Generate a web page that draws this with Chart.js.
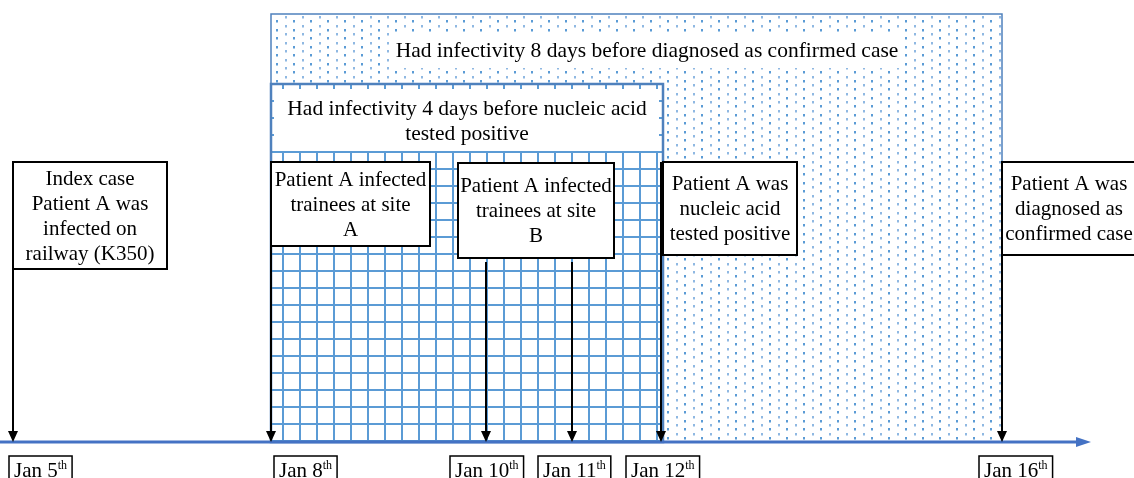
<!DOCTYPE html>
<html>
<head>
<meta charset="utf-8">
<script src="https://cdn.jsdelivr.net/npm/chart.js@4/dist/chart.umd.min.js"></script>
<style>
  html, body { margin: 0; padding: 0; background: #fff; }
  #wrap { width: 1134px; height: 478px; position: relative; }
</style>
</head>
<body>
<div id="wrap"><canvas id="timeline"></canvas></div>
<script>
// timeline data (positions in days as drawn on the diagram)
var dateLabels = ['Jan 5', 'Jan 8', 'Jan 10', 'Jan 11', 'Jan 12', 'Jan 16'];
var datePos = [5, 8, 10.5, 11.5, 12.53, 16.5];

var eventText = [
    ['Index case', 'Patient A was', 'infected on', 'railway (K350)'],
    ['Patient A infected', 'trainees at site', 'A'],
    ['Patient A infected', 'trainees at site', 'B'],
    ['Patient A was', 'nucleic acid', 'tested positive'],
    ['Patient A was', 'diagnosed as', 'confirmed case']
];
// which date(s) each event points at
var eventDates = [[0], [1], [2, 3], [4], [5]];

var periodText = [
    ['Had infectivity 8 days before diagnosed as confirmed case'],
    ['Had infectivity 4 days before nucleic acid', 'tested positive']
];
var periodFrom = [1, 1];
var periodTo = [5, 4];

var FONT = '"Liberation Serif", "Times New Roman", serif';
var BLUE = '#4f81bd';
var GRIDBLUE = '#5b9bd5';

function textLines(ctx, lines, cx, cy, lh) {
    var y0 = cy - (lines.length - 1) * lh / 2;
    lines.forEach(function (t, i) { ctx.fillText(t, cx, y0 + i * lh); });
}

/* all the drawing of the diagram happens here, using the x scale */
var timelinePlugin = {
    id: 'timeline',
    afterDraw: function (chart) {
        var ctx = chart.ctx;
        var xs = chart.scales.x;
        var px = function (i) { return Math.round(xs.getPixelForValue(datePos[i])); };
        var axisY = chart.chartArea.bottom;

        ctx.save();
        ctx.textAlign = 'center';
        ctx.textBaseline = 'middle';

        // 8 day period: dotted area
        var dL = px(periodFrom[0]), dR = px(periodTo[0]), dT = 14;
        ctx.fillStyle = '#fff';
        ctx.fillRect(dL, dT, dR - dL, axisY - dT);
        ctx.save();
        ctx.beginPath();
        ctx.rect(dL, dT, dR - dL, axisY - dT);
        ctx.clip();
        for (var i = 0; dL + 5 + i * 8.5 < dR; i++) {
            var off = (i % 2) ? 0 : 4.25;
            ctx.fillStyle = (i % 2) ? '#8fb8e2' : '#5b9bd5';
            for (var j = 0; dT + 2 + off + j * 8.5 < axisY; j++) {
                ctx.fillRect(Math.round(dL + 5 + i * 8.5), Math.round(dT + 2 + off + j * 8.5), 2, 2.5);
            }
        }
        ctx.restore();
        ctx.strokeStyle = BLUE;
        ctx.lineWidth = 1.5;
        ctx.strokeRect(dL, dT, dR - dL, axisY - dT);

        ctx.font = '21.5px ' + FONT;
        var tw = ctx.measureText(periodText[0][0]).width;
        var tcx = 647;
        ctx.fillStyle = '#fff';
        ctx.fillRect(tcx - tw / 2 - 5, 33, tw + 10, 35);
        ctx.fillStyle = '#000';
        textLines(ctx, periodText[0], tcx, 51, 25);

        // 4 day period: grid area
        var gL = px(periodFrom[1]), gR = px(periodTo[1]) + 2, gT = 84;
        ctx.fillStyle = '#fff';
        ctx.fillRect(gL, gT, gR - gL, axisY - gT);
        ctx.save();
        ctx.beginPath();
        ctx.rect(gL, gT, gR - gL, axisY - gT);
        ctx.clip();
        ctx.strokeStyle = GRIDBLUE;
        ctx.lineWidth = 2;
        ctx.beginPath();
        for (var gx = gL - 5; gx < gR; gx += 17) {
            ctx.moveTo(gx, gT); ctx.lineTo(gx, axisY);
        }
        for (var gy = gT; gy < axisY; gy += 17) {
            ctx.moveTo(gL, gy); ctx.lineTo(gR, gy);
        }
        ctx.stroke();
        ctx.restore();
        ctx.strokeStyle = BLUE;
        ctx.lineWidth = 2.5;
        ctx.strokeRect(gL, gT, gR - gL, axisY - gT);
        ctx.fillStyle = '#fff';
        ctx.fillRect(gL + 3, 89, gR - gL - 7, 62);
        ctx.fillStyle = '#000';
        ctx.font = '21.5px ' + FONT;
        textLines(ctx, periodText[1], 467, 122, 25);

        // time axis with arrow head
        ctx.strokeStyle = '#4472c4';
        ctx.fillStyle = '#4472c4';
        ctx.lineWidth = 3;
        ctx.beginPath();
        ctx.moveTo(0, axisY);
        ctx.lineTo(1080, axisY);
        ctx.stroke();
        ctx.beginPath();
        ctx.moveTo(1091, axisY);
        ctx.lineTo(1076, axisY - 5);
        ctx.lineTo(1076, axisY + 5);
        ctx.closePath();
        ctx.fill();

        // event boxes: left offset from first date, width, top, bottom, arrow start
        var boxes = [
            { dx: 0, w: 154, t: 162, b: 269, from: 162 },
            { dx: 0, w: 159, t: 162, b: 246, from: 162 },
            { dx: -28, w: 156, t: 163, b: 258, from: 262 },
            { dx: 2, w: 134, t: 162, b: 255, from: 162 },
            { dx: 0, w: 134, t: 162, b: 255, from: 162 }
        ];
        ctx.strokeStyle = '#000';
        ctx.fillStyle = '#000';
        eventDates.forEach(function (ds, k) {
            ds.forEach(function (d) {
                var x = px(d);
                ctx.lineWidth = 2;
                ctx.beginPath();
                ctx.moveTo(x, boxes[k].from);
                ctx.lineTo(x, axisY - 8);
                ctx.stroke();
                ctx.beginPath();
                ctx.moveTo(x, axisY);
                ctx.lineTo(x - 5, axisY - 11);
                ctx.lineTo(x + 5, axisY - 11);
                ctx.closePath();
                ctx.fill();
            });
        });
        ctx.font = '21px ' + FONT;
        eventText.forEach(function (lines, k) {
            var bx = boxes[k];
            var left = px(eventDates[k][0]) + bx.dx;
            ctx.fillStyle = '#fff';
            ctx.fillRect(left, bx.t, bx.w, bx.b - bx.t);
            ctx.strokeStyle = '#000';
            ctx.lineWidth = 2;
            ctx.strokeRect(left, bx.t, bx.w, bx.b - bx.t);
            ctx.fillStyle = '#000';
            textLines(ctx, lines, left + bx.w / 2, (bx.t + bx.b) / 2 + 1, 25);
        });

        // date labels under the axis
        var lblDx = [-4, 3, -36, -34, -35, -23];
        ctx.textAlign = 'left';
        ctx.textBaseline = 'alphabetic';
        dateLabels.forEach(function (lbl, i) {
            ctx.font = '21px ' + FONT;
            var w1 = ctx.measureText(lbl).width;
            ctx.font = '12px ' + FONT;
            var w2 = ctx.measureText('th').width;
            var left = px(i) + lblDx[i];
            var w = w1 + w2 + 10;
            ctx.fillStyle = '#fff';
            ctx.fillRect(left, 456, w, 30);
            ctx.strokeStyle = '#000';
            ctx.lineWidth = 1.5;
            ctx.strokeRect(left, 456, w, 30);
            ctx.fillStyle = '#000';
            ctx.font = '21px ' + FONT;
            ctx.fillText(lbl, left + 5, 477);
            ctx.font = '12px ' + FONT;
            ctx.fillText('th', left + 5 + w1, 469);
        });
        ctx.restore();
    }
};

var ctx = document.getElementById('timeline').getContext('2d');
var myChart = new Chart(ctx, {
    type: 'scatter',
    data: {
        datasets: [{
            label: 'Events',
            data: datePos.map(function (d) { return { x: d, y: 0 }; }),
            pointRadius: 0
        }]
    },
    options: {
        responsive: true,
        maintainAspectRatio: false,
        animation: false,
        layout: { padding: { left: 13, right: 46, top: 0, bottom: 36 } },
        scales: {
            x: { type: 'linear', min: 5, max: 17.5, display: false },
            y: { min: 0, max: 1, display: false }
        },
        plugins: { legend: { display: false }, tooltip: { enabled: false } }
    },
    plugins: [timelinePlugin]
});
</script>
</body>
</html>
